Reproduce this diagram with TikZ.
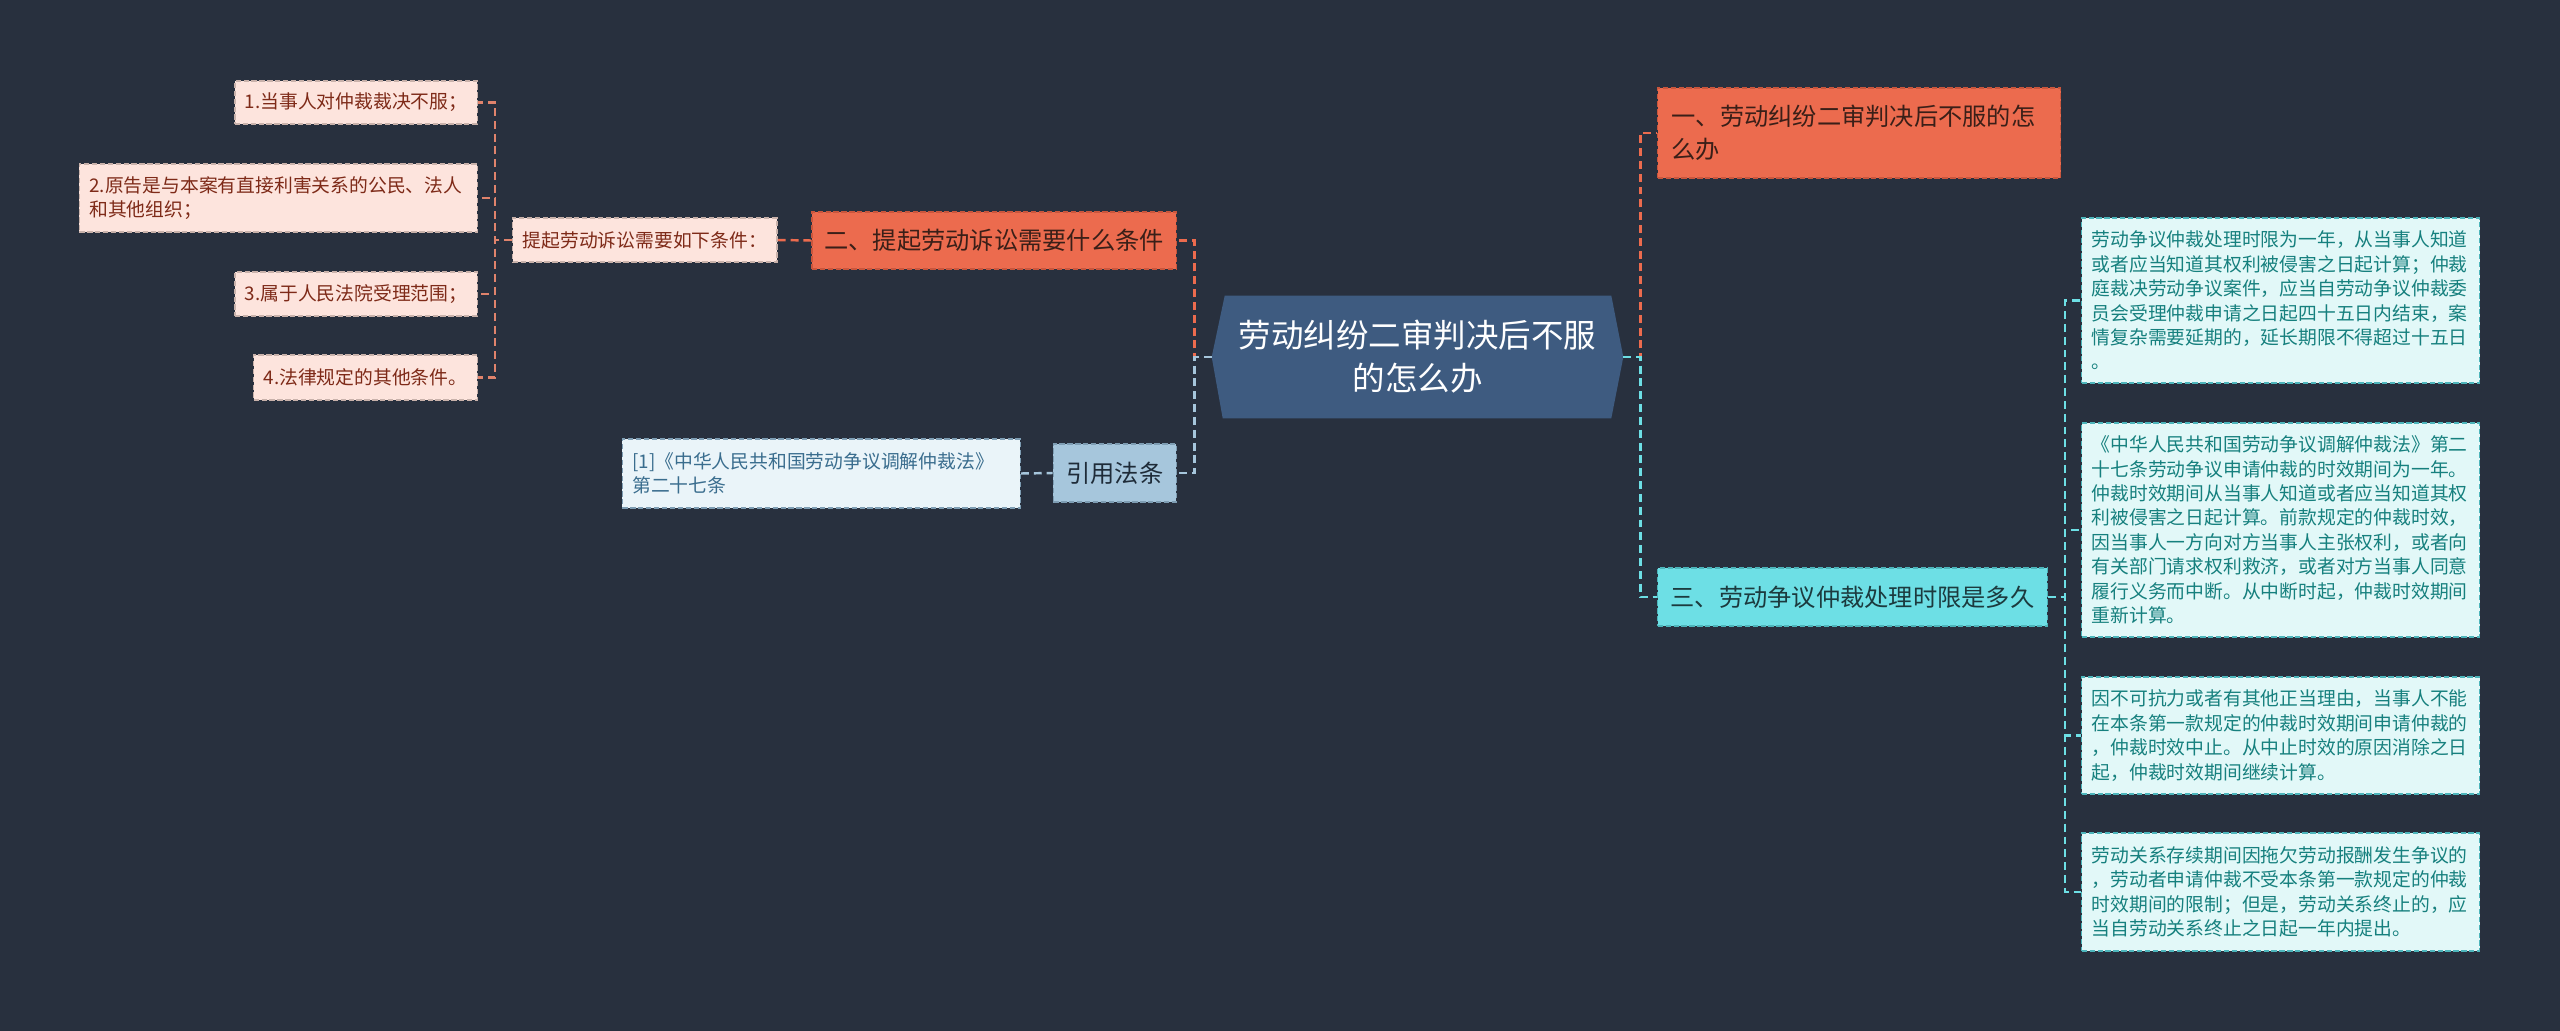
\documentclass[tikz,border=0pt]{standalone}
\usepackage{fontspec}
\setmainfont{Noto Sans CJK SC}
\usetikzlibrary{backgrounds}
\definecolor{MMBack}{HTML}{28303E}
\definecolor{MMOrange}{HTML}{EC6B4E}
\definecolor{MMOrangeLine}{HTML}{C9563D}
\definecolor{MMOrangeText}{HTML}{3A1F18}
\definecolor{MMSalmon}{HTML}{E0836C}
\definecolor{MMPink}{HTML}{FDE4DD}
\definecolor{MMPinkLine}{HTML}{C9B2AB}
\definecolor{MMPinkText}{HTML}{7E2A18}
\definecolor{MMHub}{HTML}{3E5B80}
\definecolor{MMSteel}{HTML}{A6C6DC}
\definecolor{MMSteelLine}{HTML}{7E9DB3}
\definecolor{MMSteelText}{HTML}{1E2B38}
\definecolor{MMIce}{HTML}{EAF4F9}
\definecolor{MMIceText}{HTML}{3A6D8E}
\definecolor{MMCyan}{HTML}{6DDFE5}
\definecolor{MMCyanLine}{HTML}{4DB5BB}
\definecolor{MMCyanText}{HTML}{1C3A3E}
\definecolor{MMMint}{HTML}{E2F8F8}
\definecolor{MMMintText}{HTML}{16807E}
\newcommand\mmsmall{\fontsize{10.7pt}{13.9pt}\selectfont}
\newcommand\mmmid{\fontsize{13.8pt}{18.8pt}\selectfont}
\newcommand\mmbig{\fontsize{18.5pt}{24.5pt}\selectfont}
\tikzset{
  boxline/.style={line width=.8pt,dash pattern=on 3pt off 1.5pt},
  lnk/.style={line width=1.4pt,dash pattern=on 4.5pt off 2.8pt},
  leafpink/.style={boxline,draw=MMPinkLine,fill=MMPink,text=MMPinkText,font=\mmsmall,inner xsep=0.2cm,inner ysep=0pt},
  leafice/.style={boxline,draw=MMSteelLine,fill=MMIce,text=MMIceText,font=\mmsmall,inner xsep=0.2cm,inner ysep=0pt,text width=7.56cm,align=left},
  leafmint/.style={boxline,draw=MMCyanLine,fill=MMMint,text=MMMintText,font=\mmsmall,inner xsep=0.2cm,inner ysep=0pt,text width=7.56cm,align=left},
  topicorange/.style={boxline,draw=MMOrangeLine,fill=MMOrange,text=MMOrangeText,font=\mmmid,inner xsep=0.25cm,inner ysep=0pt},
  topiccyan/.style={boxline,draw=MMCyanLine,fill=MMCyan,text=MMCyanText,font=\mmmid,inner xsep=0.26cm,inner ysep=0pt},
  topicsteel/.style={boxline,draw=MMSteelLine,fill=MMSteel,text=MMSteelText,font=\mmmid,inner xsep=0.26cm,inner ysep=0pt}
}
\begin{document}
\begin{tikzpicture}[x=0.02cm,y=-0.02cm]
\path[use as bounding box] (0,0) rectangle (2560,1031);
\node[leafpink,anchor=east,minimum height=0.86cm] (cond1) at (478,102.5) {1.当事人对仲裁裁决不服；};
\node[leafpink,anchor=east,minimum height=1.36cm,text width=7.56cm,align=left] (cond2) at (478,198) {2.原告是与本案有直接利害关系的公民、法人\\和其他组织；};
\node[leafpink,anchor=east,minimum height=0.88cm] (cond3) at (478,294) {3.属于人民法院受理范围；};
\node[leafpink,anchor=east,minimum height=0.9cm] (cond4) at (478,377.5) {4.法律规定的其他条件。};
\node[leafpink,anchor=west,minimum height=0.88cm] (condsum) at (512,240) {提起劳动诉讼需要如下条件：};
\node[topicorange,anchor=east,minimum height=1.14cm] (topic2) at (1177,240.5) {二、提起劳动诉讼需要什么条件};
\node[topicsteel,anchor=east,minimum height=1.16cm] (lawref) at (1177,473) {引用法条};
\node[leafice,anchor=east,minimum height=1.38cm] (lawtext) at (1021,473.5) {[1]《中华人民共和国劳动争议调解仲裁法》\\第二十七条};
\node[text=white,font=\mmbig,align=center,minimum width=8.22cm,minimum height=2.44cm,inner sep=0pt] (hub) at (1417.5,357) {劳动纠纷二审判决后不服\\的怎么办};
\node[topicorange,anchor=west,minimum height=1.8cm,text width=7.5cm,align=left,inner xsep=0.28cm] (topic1) at (1657,133) {一、劳动纠纷二审判决后不服的怎\\么办};
\node[topiccyan,anchor=west,minimum height=1.16cm] (topic3) at (1657,597) {三、劳动争议仲裁处理时限是多久};
\node[leafmint,anchor=west,minimum height=3.3cm] (limit1) at (2081,300.5) {劳动争议仲裁处理时限为一年，从当事人知道\\或者应当知道其权利被侵害之日起计算；仲裁\\庭裁决劳动争议案件，应当自劳动争议仲裁委\\员会受理仲裁申请之日起四十五日内结束，案\\情复杂需要延期的，延长期限不得超过十五日\\。};
\node[leafmint,anchor=west,minimum height=4.28cm] (limit2) at (2081,530) {《中华人民共和国劳动争议调解仲裁法》第二\\十七条劳动争议申请仲裁的时效期间为一年。\\仲裁时效期间从当事人知道或者应当知道其权\\利被侵害之日起计算。前款规定的仲裁时效，\\因当事人一方向对方当事人主张权利，或者向\\有关部门请求权利救济，或者对方当事人同意\\履行义务而中断。从中断时起，仲裁时效期间\\重新计算。};
\node[leafmint,anchor=west,minimum height=2.34cm] (limit3) at (2081,735.5) {因不可抗力或者有其他正当理由，当事人不能\\在本条第一款规定的仲裁时效期间申请仲裁的\\，仲裁时效中止。从中止时效的原因消除之日\\起，仲裁时效期间继续计算。};
\node[leafmint,anchor=west,minimum height=2.36cm] (limit4) at (2081,892) {劳动关系存续期间因拖欠劳动报酬发生争议的\\，劳动者申请仲裁不受本条第一款规定的仲裁\\时效期间的限制；但是，劳动关系终止的，应\\当自劳动关系终止之日起一年内提出。};
\begin{scope}[on background layer]
\fill[MMBack] (0,0) rectangle (2560,1031);
\fill[MMHub] (hub.west) -- ([xshift=0.26cm]hub.north west) -- ([xshift=-0.24cm]hub.north east) -- (hub.east) -- ([xshift=-0.24cm]hub.south east) -- ([xshift=0.22cm]hub.south west) -- cycle;
\end{scope}
\draw[lnk,MMSalmon] (condsum.west) -- ++(-17,0) |- (cond1.east);
\draw[lnk,MMSalmon] (condsum.west) -- ++(-17,0) |- (cond2.east);
\draw[lnk,MMSalmon] (condsum.west) -- ++(-17,0) |- (cond3.east);
\draw[lnk,MMSalmon] (condsum.west) -- ++(-17,0) |- (cond4.east);
\draw[lnk,MMOrange] (condsum.east) -- (topic2.west);
\draw[lnk,MMOrange] (hub.west) -- ++(-17,0) |- (topic2.east);
\draw[lnk,MMSteel] (hub.west) -- ++(-17,0) |- (lawref.east);
\draw[lnk,MMSteel] (lawtext.east) -- (lawref.west);
\draw[lnk,MMOrange] (hub.east) -- ++(17,0) |- (topic1.west);
\draw[lnk,MMCyan] (hub.east) -- ++(17,0) |- (topic3.west);
\draw[lnk,MMCyan] (topic3.east) -- ++(17,0) |- (limit1.west);
\draw[lnk,MMCyan] (topic3.east) -- ++(17,0) |- (limit2.west);
\draw[lnk,MMCyan] (topic3.east) -- ++(17,0) |- (limit3.west);
\draw[lnk,MMCyan] (topic3.east) -- ++(17,0) |- (limit4.west);
\end{tikzpicture}
\end{document}
